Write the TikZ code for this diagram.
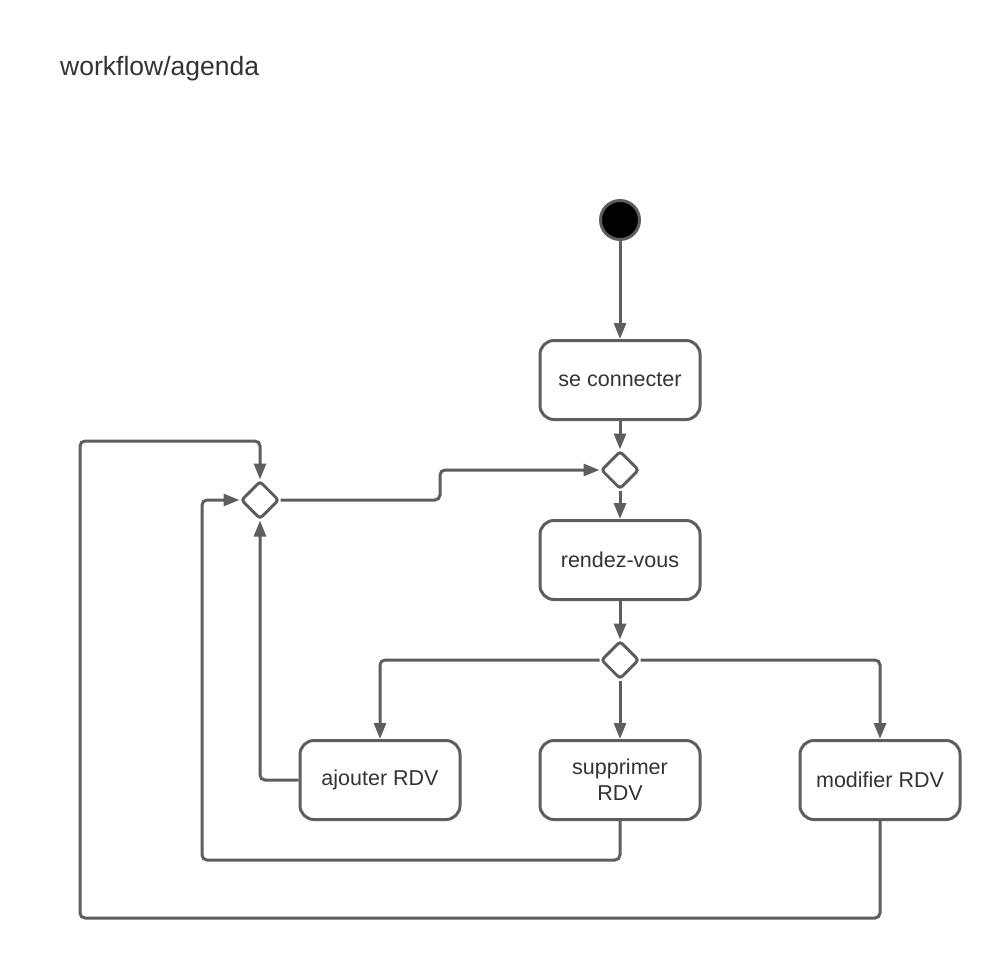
\documentclass[tikz,border=0pt]{standalone}
\usepackage{fontspec}
\setmainfont{Liberation Sans}
\usetikzlibrary{arrows.meta,shapes.geometric}
\definecolor{lc}{HTML}{5E5E5E}
\definecolor{tc}{HTML}{333333}
\begin{document}
\begin{tikzpicture}[x=1pt,y=-1pt,
  act/.style={draw=lc,line width=3pt,rounded corners=14pt,minimum width=160pt,minimum height=79pt,
    inner sep=0pt,align=center,text=tc,font=\fontsize{21.5}{26}\selectfont,fill=white},
  dec/.style={draw=lc,line width=3pt,diamond,aspect=1,minimum size=38pt,inner sep=0pt,rounded corners=3pt,fill=white},
  conn/.style={draw=lc,line width=3pt,rounded corners=5pt,-{Triangle[length=16pt,width=12pt]}}]
\useasboundingbox (0,0) rectangle (1000,960);
\node[anchor=base west,text=tc,font=\fontsize{26.5}{30}\selectfont,inner sep=0pt] (title) at (60,76) {workflow/agenda};
\node[circle,fill=black,draw=lc,line width=3pt,minimum size=39pt,inner sep=0pt] (start) at (620,220) {};
\node[act] (sec) at (620,380) {se connecter};
\node[dec] (d1) at (620,470) {};
\node[act] (rdv) at (620,560) {rendez-vous};
\node[dec] (d3) at (620,660) {};
\node[dec] (d2) at (260,500) {};
\node[act] (ajout) at (380,780) {ajouter RDV};
\node[act] (supp) at (620,780) {supprimer\\RDV};
\node[act] (modif) at (880,780) {modifier RDV};
\coordinate (c1) at (202,860);
\coordinate (c2) at (80,918);
\coordinate (c3) at (80,441);
\coordinate (c4) at (440,485);
\draw[conn] (start) -- (sec);
\draw[conn] (sec) -- (d1);
\draw[conn] (d1) -- (rdv);
\draw[conn] (rdv) -- (d3);
\draw[conn] (d3.west) -| (ajout.north);
\draw[conn] (d3) -- (supp);
\draw[conn] (d3.east) -| (modif.north);
\draw[conn] (ajout.west) -| (d2.south);
\draw[conn] (supp.south) |- (c1) |- (d2.west);
\draw[conn] (modif.south) |- (c2) -- (c3) -| (d2.north);
\draw[conn] (d2.east) -| (c4) |- (d1.west);
\end{tikzpicture}
\end{document}
